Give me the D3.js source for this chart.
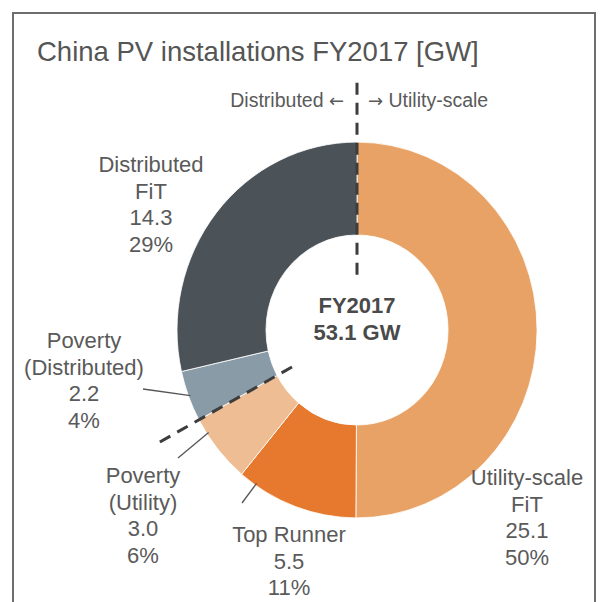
<!DOCTYPE html>
<html>
<head>
<meta charset="utf-8">
<script src="https://cdn.jsdelivr.net/npm/d3@7"></script>
<style>
  html, body { margin: 0; padding: 0; background: #fff; }
  svg { display: block; font-family: "Liberation Sans", Arial, sans-serif; }
</style>
</head>
<body>
<svg id="chart" width="600" height="602"></svg>
<script>
/* China PV installations FY2017 — donut split into distributed / utility-scale */

const categories = ['Utility-scale FiT', 'Top Runner', 'Poverty (Utility)', 'Poverty (Distributed)', 'Distributed FiT'];
const valuesGW   = [25.1, 5.5, 3.0, 2.2, 14.3];
const labelLines = [['Utility-scale', 'FiT'], ['Top Runner'], ['Poverty', '(Utility)'], ['Poverty', '(Distributed)'], ['Distributed', 'FiT']];
const sliceColors = ['#E9A265', '#E6792E', '#EEBD93', '#8A9BA8', '#4B5359'];
const centerText = ['FY2017', '53.1 GW'];
const titleText  = 'China PV installations FY2017 [GW]';
const sideText   = [['Distributed ', '\u2190'], ['\u2192', ' Utility-scale']];

// label anchor (centre x, first baseline y) and leader settings per slice
const labelPos = [
  { x: 527, y: 485 },
  { x: 289, y: 542, leader: [242, 503], frac: 0.86 },
  { x: 143, y: 483, leader: [178, 458], frac: 0.77 },
  { x: 84,  y: 348, leader: [143, 389], frac: 0.5 },
  { x: 151, y: 172 }
];

const svg = d3.select('#chart');
const cx = 357, cy = 330, sy = 1.044;   // reference donut is slightly taller than wide
const outerR = 180, innerR = 91;
const lineH = 26.7;
const textColor = '#5a5a5a';

// ── frame ─────────────────────────────
svg.append('rect')
  .attr('x', 13).attr('y', 13)
  .attr('width', 582).attr('height', 600)
  .attr('fill', 'none')
  .attr('stroke', '#6d6d6d')
  .attr('stroke-width', 2);

svg.append('text')
  .attr('x', 37).attr('y', 61)
  .attr('font-size', 27.5)
  .attr('fill', '#555')
  .text(titleText);

// ── donut ─────────────────────────────
const total = d3.sum(valuesGW);
const pct = d3.format('.0%');
const pie = d3.pie().sort(null).value(d => d)(valuesGW);
const arc = d3.arc().innerRadius(innerR).outerRadius(outerR);

const g = svg.append('g').attr('transform', `translate(${cx},${cy}) scale(1,${sy})`);
g.selectAll('path.slice')
  .data(pie)
  .enter()
  .append('path')
  .attr('class', 'slice')
  .attr('d', arc)
  .attr('fill', (d, i) => sliceColors[i])
  .attr('stroke', '#fff')
  .attr('stroke-width', 0.8);

const pt = (a, r) => [cx + r * Math.sin(a), cy - r * sy * Math.cos(a)];

// ── dashed dividers (distributed | utility) ──
const splitAngle = pie[2].endAngle;
const dividers = [
  { a: 0, r0: 53, r1: 237 },
  { a: splitAngle, r0: 74, r1: 232 }
];
dividers.forEach(d => {
  const p0 = pt(d.a, d.r0), p1 = pt(d.a, d.r1);
  svg.append('line')
    .attr('x1', p0[0]).attr('y1', p0[1])
    .attr('x2', p1[0]).attr('y2', p1[1])
    .attr('stroke', '#3d3d3d')
    .attr('stroke-width', 3)
    .attr('stroke-dasharray', '12,8');
});

// side captions, arrows drawn from DejaVu for a full-size glyph
[[cx - 13, 'end'], [cx + 11, 'start']].forEach(([x, anchor], i) => {
  const t = svg.append('text')
    .attr('x', x).attr('y', 107)
    .attr('text-anchor', anchor)
    .attr('font-size', 19.5)
    .attr('fill', textColor);
  sideText[i].forEach(s => {
    const ts = t.append('tspan').text(s);
    if (s.length === 1) ts.attr('font-family', '"DejaVu Sans"').attr('font-size', 18);
  });
});

// ── centre text ───────────────────────
centerText.forEach((t, i) => {
  svg.append('text')
    .attr('x', cx).attr('y', 313 + i * 27)
    .attr('text-anchor', 'middle')
    .attr('font-size', 22)
    .attr('font-weight', 'bold')
    .attr('fill', '#4a4a4a')
    .text(t);
});

// ── slice labels + leaders ────────────
pie.forEach((d, i) => {
  const pos = labelPos[i];
  const lines = labelLines[i].concat([valuesGW[i].toFixed(1), pct(valuesGW[i] / total)]);
  const t = svg.append('text')
    .attr('text-anchor', 'middle')
    .attr('font-size', 22)
    .attr('fill', textColor);
  lines.forEach((s, k) => {
    t.append('tspan').attr('x', pos.x).attr('y', pos.y + k * lineH).text(s);
  });
  if (pos.leader) {
    const a = d.startAngle + (d.endAngle - d.startAngle) * pos.frac;
    const end = pt(a, outerR - 2);
    svg.append('line')
      .attr('x1', pos.leader[0]).attr('y1', pos.leader[1])
      .attr('x2', end[0]).attr('y2', end[1])
      .attr('stroke', '#555')
      .attr('stroke-width', 1.3);
  }
});
</script>
</body>
</html>
